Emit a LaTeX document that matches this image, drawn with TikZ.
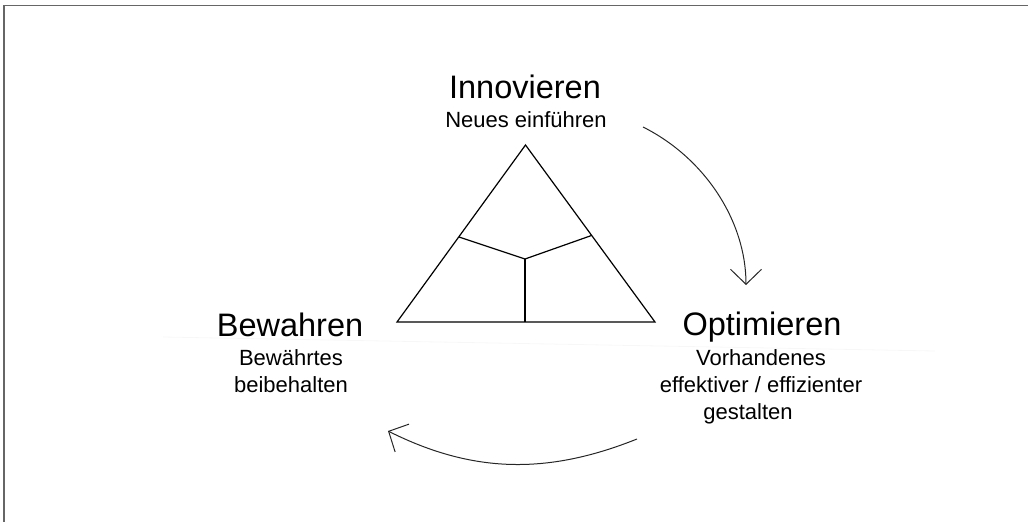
\documentclass[tikz,border=0pt]{standalone}
\usepackage{fontspec}
\setmainfont{Liberation Sans}
\usetikzlibrary{arrows.meta}
\tikzset{
	titel/.style={anchor=base, inner sep=0pt, font=\fontsize{32.5}{39}\selectfont},
	untertitel/.style={anchor=north, inner sep=0pt, align=center, font=\fontsize{22}{27}\selectfont},
	kreislauf/.style={line width=1pt, color=black!85, -{Straight Barb[length=15pt,width=31pt]}}
}

\begin{document}
\begin{tikzpicture}[x=1pt, y=-1pt]
		%%%%% START %%%%%
		\useasboundingbox (0, 0) rectangle (1028, 522);
		
		\draw[line width=1.5pt, color=black!60] (4, 522) -- (4, 5.5) -- (1028, 5.5);
		\draw[line width=0.8pt, color=black!3] (163, 337) -- (935, 351);
		
		% Dreieck
		\coordinate (spitze) at (525.5, 145);
		\coordinate (links) at (397, 322);
		\coordinate (rechts) at (655, 322);
		\coordinate (zentrum) at (525, 259);
		\coordinate (seite-l) at (459, 237);
		\coordinate (seite-r) at (591.5, 235.5);
		\coordinate (basis) at (525, 322);
		
		\draw[line width=1.2pt] (spitze) -- (links) -- (rechts) -- cycle;
		\draw[line width=1.2pt] (seite-l) -- (zentrum) -- (seite-r);
		\draw[line width=1.2pt] (zentrum) -- (basis);
		
		% Texte
		\node[titel] (innovieren) at (525, 98) {Innovieren};
		\node[untertitel] (innovieren-text) at (526, 111) {Neues einführen};
		
		\node[titel] (bewahren) at (290, 336) {Bewahren};
		\node[untertitel] (bewahren-text) at (291, 349) {Bewährtes\\beibehalten};
		
		\node[titel] (optimieren) at (762, 335) {Optimieren};
		\node[untertitel] (optimieren-text) at (761, 349) {Vorhandenes\\effektiver / effizienter\\gestalten\hspace*{26pt}};
		
		% Pfeile
		\coordinate (pfeil1-a) at (643, 127);
		\coordinate (pfeil1-b) at (746, 285);
		\draw[kreislauf] (pfeil1-a) .. controls (704.8, 157.9) and (746, 221.1) .. (pfeil1-b);
		
		\coordinate (pfeil2-a) at (637, 439);
		\coordinate (pfeil2-b) at (388, 431);
		\draw[kreislauf] (pfeil2-a) .. controls (546.4, 475.3) and (471.7, 472.9) .. (pfeil2-b);
		
		%%%%% END %%%%%
\end{tikzpicture}
\end{document}
